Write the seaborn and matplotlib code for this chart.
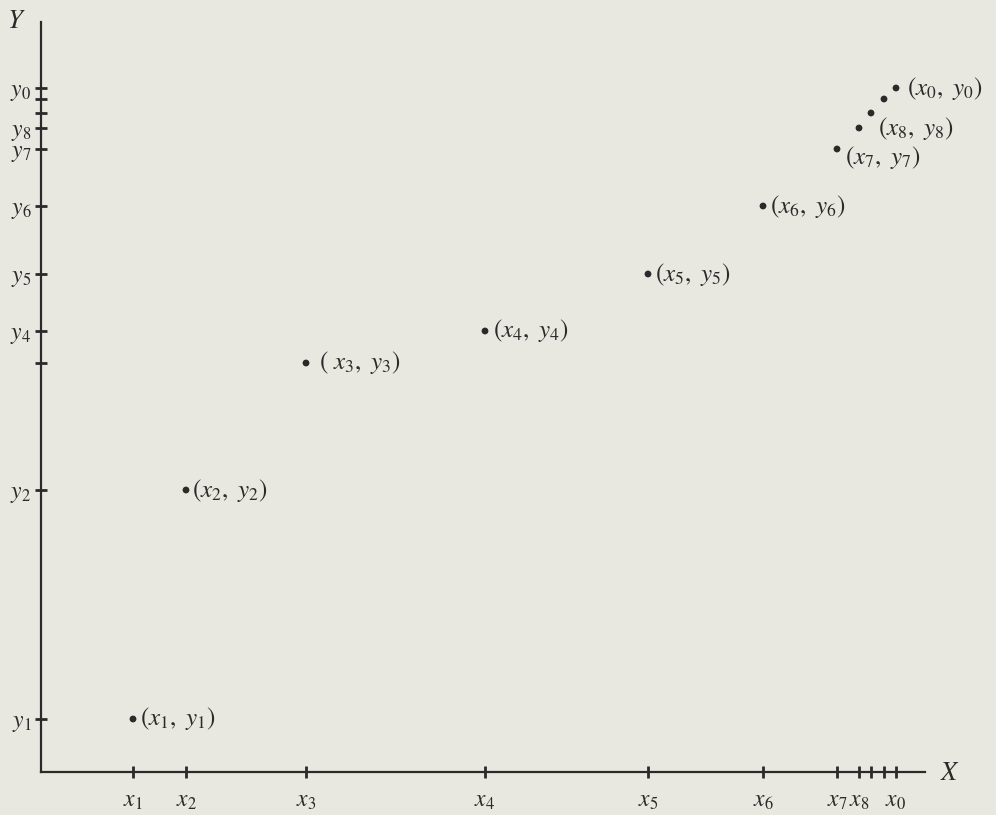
import matplotlib
matplotlib.use('Agg')
import matplotlib.pyplot as plt
import seaborn as sns
import pandas as pd

# point coordinates (arbitrary units), order: 1..8, two unnamed, 0
x_vals = [92, 145, 265, 444, 607, 722, 796, 818, 830, 843, 855]
y_vals = [53, 282, 409, 441, 498, 566, 623, 644, 659, 673, 684]
point_labels = [r'$(x_1,\ y_1)$', r'$(x_2,\ y_2)$', r'$(\ x_3,\ y_3)$', r'$(x_4,\ y_4)$',
                r'$(x_5,\ y_5)$', r'$(x_6,\ y_6)$', r'$(x_7,\ y_7)$', r'$(x_8,\ y_8)$',
                '', '', r'$(x_0,\ y_0)$']
x_tick_labels = [r'$x_1$', r'$x_2$', r'$x_3$', r'$x_4$', r'$x_5$', r'$x_6$', r'$x_7$', r'$x_8$',
                 '', '', r'$x_0$']
y_tick_labels = [r'$y_1$', r'$y_2$', '', r'$y_4$', r'$y_5$', r'$y_6$', r'$y_7$', r'$y_8$',
                 '', '', r'$y_0$']

df = pd.DataFrame({'x': x_vals, 'y': y_vals, 'label': point_labels})

sns.set_theme(style='white')
plt.rcParams['font.family'] = ['DejaVu Serif']
plt.rcParams['mathtext.fontset'] = 'stix'

bg = '#e8e8e0'
ink = '#2a2a2a'
fig = plt.figure(figsize=(9.96, 8.15), dpi=100, facecolor=bg)
ax = fig.add_axes([41 / 996, 43 / 815, 884 / 996, 750 / 815])
ax.set_facecolor(bg)

sns.scatterplot(data=df, x='x', y='y', ax=ax, color=ink, s=24, edgecolor='none', zorder=3)

# label offsets in points (x, y)
offsets = [(5, 0), (4, 0), (9, 0), (6, 0), (5, 0), (5, 0), (6, -6), (14, 0), (0, 0), (0, 0), (8, 0)]
for (xv, yv, lab), off in zip(zip(x_vals, y_vals, point_labels), offsets):
    if lab:
        ax.annotate(lab, (xv, yv), xytext=off, textcoords='offset points',
                    ha='left', va='center', fontsize=18, color=ink)

ax.set_xlim(0, 884)
ax.set_ylim(0, 750)
ax.set_xticks(x_vals)
ax.set_xticklabels(x_tick_labels, fontsize=17, color=ink)
ax.set_yticks(y_vals)
ax.set_yticklabels(y_tick_labels, fontsize=17, color=ink)
ax.tick_params(axis='both', direction='inout', length=8, width=2, color=ink,
               bottom=True, left=True)
ax.tick_params(axis='x', pad=8)
ax.tick_params(axis='y', pad=3)
ax.set_xlabel('')
ax.set_ylabel('')

for side in ['top', 'right']:
    ax.spines[side].set_visible(False)
for side in ['left', 'bottom']:
    ax.spines[side].set_color(ink)
    ax.spines[side].set_linewidth(1.6)

fig.text(950 / 996, 1 - 772 / 815, r'$X$', fontsize=19, color=ink, ha='center', va='center')
fig.text(16 / 996, 1 - 20 / 815, r'$Y$', fontsize=19, color=ink, ha='center', va='center')

fig.savefig('out.png', dpi=100, facecolor=bg)
